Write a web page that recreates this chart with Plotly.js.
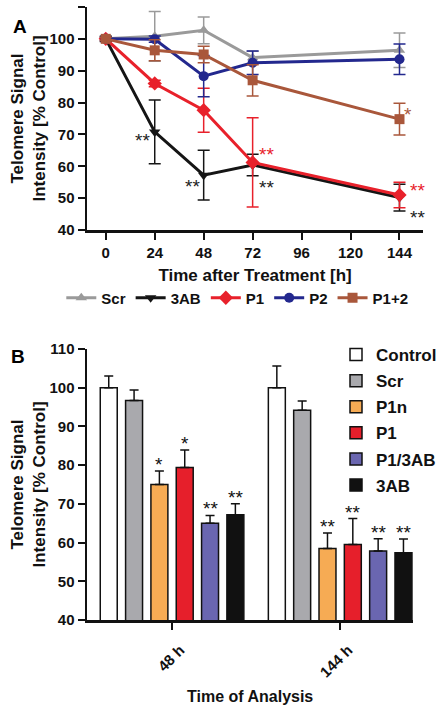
<!DOCTYPE html>
<html>
<head>
<meta charset="utf-8">
<script src="https://cdn.plot.ly/plotly-3.0.1.min.js"></script>
<style>html,body{margin:0;padding:0;background:#fff}#chart{width:442px;height:706px}</style>
</head>
<body>
<div id="chart"></div>
<script>
// ---------- Panel A data ----------
const timesA = [0, 24, 48, 72, 144];
const seriesA = ['Scr', '3AB', 'P1', 'P2', 'P1+2'];
const scrA = [100, 100.8, 102.7, 94.1, 96.4];
const scrErrA = [0.8, 7.8, 4.2, 2.0, 5.4];
const ab3A = [100, 70.8, 57.2, 60.4, 50.2];
const ab3ErrA = [0.8, 10.0, 7.8, 3.4, 4.2];
const p1A = [100, 86.0, 77.6, 61.2, 51.0];
const p1ErrA = [0.5, 1.0, 6.9, 14.0, 4.0];
const p2A = [100, 99.9, 88.3, 92.5, 93.6];
const p2ErrA = [0.5, 1.0, 6.5, 3.7, 4.8];
const p12A = [100, 96.4, 95.1, 87.0, 74.8];
const p12ErrA = [0.5, 3.3, 2.6, 4.9, 5.0];
const tickValsA = [0, 24, 48, 72, 96, 120, 144];

// significance marks for panel A: [series index, time index, text]
const sigA = [
  [1, 1, '**'], [1, 2, '**'], [1, 3, '**'], [2, 3, '**'],
  [4, 4, '*'], [2, 4, '**'], [1, 4, '**']
];

// ---------- Panel B data ----------
const categoriesB = ['48 h', '144 h'];
const groupsB = ['Control', 'Scr', 'P1n', 'P1', 'P1/3AB', '3AB'];
const controlB = [100, 100];
const controlErrB = [3.0, 5.6];
const scrB = [96.7, 94.2];
const scrErrB = [2.7, 2.4];
const p1nB = [75.0, 58.5];
const p1nErrB = [3.5, 4.0];
const p1B = [79.4, 59.5];
const p1ErrB = [4.5, 6.7];
const p13abB = [65.0, 57.8];
const p13abErrB = [2.0, 3.2];
const ab3B = [67.2, 57.4];
const ab3ErrB = [2.8, 3.5];
const sigB = [['', ''], ['', ''], ['*', '**'], ['*', '**'], ['**', '**'], ['**', '**']];

// ---------- styling ----------
const FONT = 'Liberation Sans, Arial, Helvetica, sans-serif';
const colorsA = ['#9a9a9a', '#151515', '#e8212b', '#23288e', '#a9573b'];
const symbolsA = ['triangle-up', 'triangle-down', 'diamond', 'circle', 'square'];
const colorsB = ['#ffffff', '#a9a9ad', '#f6ab54', '#e61f2b', '#6a66b0', '#111111'];

const valsA = [scrA, ab3A, p1A, p2A, p12A];
const errsA = [scrErrA, ab3ErrA, p1ErrA, p2ErrA, p12ErrA];
const valsB = [controlB, scrB, p1nB, p1B, p13abB, ab3B];
const errsB = [controlErrB, scrErrB, p1nErrB, p1ErrB, p13abErrB, ab3ErrB];

const traces = [];
seriesA.forEach((name, i) => {
  traces.push({
    type: 'scatter', mode: 'lines+markers', name: name,
    x: timesA, y: valsA[i], xaxis: 'x', yaxis: 'y',
    line: {color: colorsA[i], width: 3},
    marker: {color: colorsA[i], symbol: symbolsA[i], size: i === 2 ? 11 : 10},
    error_y: {type: 'data', array: errsA[i], visible: true, color: colorsA[i], thickness: 1.5, width: 6},
    legend: 'legend', cliponaxis: false
  });
});
groupsB.forEach((name, i) => {
  traces.push({
    type: 'bar', name: name, x: categoriesB, y: valsB[i],
    xaxis: 'x2', yaxis: 'y2', legend: 'legend2', legendgroup: 'g' + i,
    marker: {color: colorsB[i], line: {color: '#111', width: 1.5}},
    error_y: {type: 'data', symmetric: false, array: errsB[i], arrayminus: [0, 0],
              visible: true, color: '#111', thickness: 1.5, width: 4.5}
  });
});

const bargap = 0.096;
const annotations = [];
// panel letters
annotations.push({text: '<b>A</b>', xref: 'paper', yref: 'paper', x: 11 / 442, y: 1 - 14 / 706,
  showarrow: false, font: {family: FONT, size: 19, color: '#000'}});
annotations.push({text: '<b>B</b>', xref: 'paper', yref: 'paper', x: 9 / 442, y: 1 - 356 / 706,
  showarrow: false, font: {family: FONT, size: 19, color: '#000'}});

// panel A significance stars, offset from their points
const sigOffsetsA = [[-12, -9], [-11, -11], [14, -22], [14, 8], [9, 5], [18, 4], [18, -20]];
sigA.forEach((s, k) => {
  annotations.push({text: s[2], x: timesA[s[1]], y: valsA[s[0]][s[1]], xref: 'x', yref: 'y',
    showarrow: false, xshift: sigOffsetsA[k][0], yshift: sigOffsetsA[k][1],
    font: {family: FONT, size: 19, color: colorsA[s[0]] === '#151515' ? '#222' : colorsA[s[0]]}});
});
// panel B significance stars above the error bars
const slot = (1 - bargap) / groupsB.length;
groupsB.forEach((g, i) => {
  categoriesB.forEach((c, j) => {
    if (!sigB[i][j]) return;
    annotations.push({text: sigB[i][j], x: j + (i - (groupsB.length - 1) / 2) * slot,
      y: valsB[i][j] + errsB[i][j], xref: 'x2', yref: 'y2', yanchor: 'bottom',
      showarrow: false, yshift: -6, font: {family: FONT, size: 19, color: '#111'}});
  });
});

const axisCommon = {
  showline: true, linecolor: '#111', linewidth: 2.5, ticks: 'outside', ticklen: 7,
  tickwidth: 2, tickcolor: '#111', showgrid: false, zeroline: false,
  tickfont: {family: FONT, size: 15, color: '#111', weight: 'bold'}
};
const yTitle = {text: 'Telomere Signal<br>Intensity [% Control]',
  font: {family: FONT, size: 17, color: '#111', weight: 'bold'}, standoff: 0};

const layout = {
  width: 442, height: 706, paper_bgcolor: '#fff', plot_bgcolor: '#fff',
  margin: {l: 0, r: 0, t: 0, b: 0},
  font: {family: FONT, color: '#111'},
  barmode: 'group', bargap: bargap, bargroupgap: 0.33,
  xaxis: Object.assign({}, axisCommon, {
    domain: [88 / 442, 428 / 442], range: [-9.2, 155.6], anchor: 'y',
    tickvals: tickValsA, ticktext: tickValsA.map(String),
    title: {text: 'Time after Treatment [h]', font: {family: FONT, size: 17, color: '#111', weight: 'bold'}, standoff: 10}
  }),
  yaxis: Object.assign({}, axisCommon, {
    domain: [1 - 230 / 706, 1 - 7 / 706], range: [40, 110], anchor: 'x', dtick: 10,
    title: yTitle
  }),
  xaxis2: Object.assign({}, axisCommon, {
    domain: [88 / 442, 418 / 442], range: [-0.506, 1.435], anchor: 'y2', type: 'category',
    tickangle: -45, ticklabelstandoff: 6, ticklabelshift: 8,
    tickfont: {family: FONT, size: 15, color: '#111', weight: 'bold'},
    title: {text: 'Time of Analysis', font: {family: FONT, size: 16, color: '#111', weight: 'bold'}, standoff: 12}
  }),
  yaxis2: Object.assign({}, axisCommon, {
    domain: [1 - 620 / 706, 1 - 349 / 706], range: [40, 110], anchor: 'x2', dtick: 10,
    title: yTitle
  }),
  legend: {orientation: 'h', x: 62 / 442, xanchor: 'left', y: 1 - 298 / 706, yanchor: 'middle',
    font: {family: FONT, size: 15, color: '#111', weight: 'bold'}, bgcolor: 'rgba(0,0,0,0)'},
  legend2: {orientation: 'v', x: 340 / 442, xanchor: 'left', y: 1 - 337 / 706, yanchor: 'top',
    font: {family: FONT, size: 17, color: '#111', weight: 'bold'}, tracegroupgap: 1,
    bgcolor: 'rgba(0,0,0,0)'},
  annotations: annotations,
  showlegend: true
};

Plotly.newPlot('chart', traces, layout, {displayModeBar: false, staticPlot: true});
</script>
</body>
</html>
